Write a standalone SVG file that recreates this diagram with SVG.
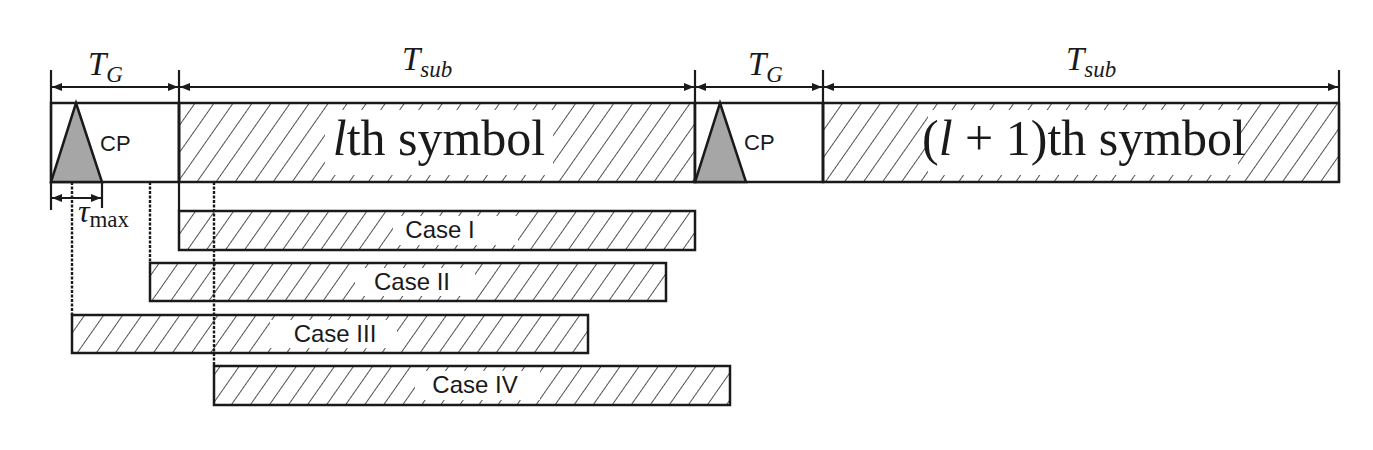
<svg xmlns="http://www.w3.org/2000/svg" width="1373" height="450" viewBox="0 0 1373 450">
<style>
.box{fill:url(#hatch);stroke:#1a1a1a;stroke-width:2.5}
.cp{fill:#fff;stroke:#1a1a1a;stroke-width:2.5}
.ln{stroke:#1a1a1a;stroke-width:2.2;fill:none}
.dash{stroke:#1a1a1a;stroke-width:2.4;fill:none;stroke-dasharray:3 1.5}
.tri{fill:#a6a6a6;stroke:#1a1a1a;stroke-width:2.5;stroke-linejoin:miter}
.wh{fill:#fff}
.sans{font-family:"Liberation Sans",Arial,sans-serif;fill:#1a1a1a}
.serif{font-family:"Liberation Serif","Times New Roman",serif;fill:#1a1a1a}
.arr{stroke:#1a1a1a;stroke-width:1.8;fill:none;marker-start:url(#ah);marker-end:url(#ah)}
</style>
<defs>
<pattern id="hatch" patternUnits="userSpaceOnUse" width="15.6" height="10" patternTransform="rotate(35)">
<line x1="0" y1="0" x2="0" y2="10" stroke="#1a1a1a" stroke-width="1.5"/>
</pattern>
<marker id="ah" viewBox="0 0 10 8" refX="10" refY="4" markerWidth="10" markerHeight="8" markerUnits="userSpaceOnUse" orient="auto-start-reverse">
<path d="M0,0 L10,4 L0,8 Z" fill="#1a1a1a"/>
</marker>
</defs>
<rect width="1373" height="450" fill="#fff"/>

<g id="cp1">
<rect class="cp" x="51" y="103" width="128" height="79"/>
<polygon class="tri" points="76,103 102,182 51,182"/>
<text class="sans" x="100" y="151" font-size="22">CP</text>
</g>
<g id="symbol-l">
<rect class="box" x="179" y="103" width="516" height="79"/>
<rect class="wh" x="325" y="110" width="228" height="65"/>
<text class="serif" x="439" y="155" font-size="50" text-anchor="middle"><tspan font-style="italic">l</tspan>th symbol</text>
</g>
<g id="cp2">
<rect class="cp" x="695" y="103" width="128" height="79"/>
<polygon class="tri" points="720,103 746,182 695,182"/>
<text class="sans" x="744" y="150" font-size="22">CP</text>
</g>
<g id="symbol-l1">
<rect class="box" x="823" y="103" width="516" height="79"/>
<rect class="wh" x="928" y="110" width="310" height="65"/>
<text class="serif" x="1084" y="155" font-size="50" text-anchor="middle">(<tspan font-style="italic">l</tspan> + 1)th symbol</text>
</g>

<g id="case1">
<rect class="box" x="179" y="211" width="516" height="39"/>
<rect class="wh" x="393" y="216" width="125" height="29"/>
<text class="sans" x="440" y="238" font-size="24" text-anchor="middle">Case I</text>
</g>
<g id="case2">
<rect class="box" x="150" y="263" width="516" height="38"/>
<rect class="wh" x="355" y="268" width="120" height="28"/>
<text class="sans" x="412" y="290" font-size="24" text-anchor="middle">Case II</text>
</g>
<g id="case3">
<rect class="box" x="72" y="315" width="516" height="38"/>
<rect class="wh" x="270" y="320" width="127" height="28"/>
<text class="sans" x="335" y="342" font-size="24" text-anchor="middle">Case III</text>
</g>
<g id="case4">
<rect class="box" x="214" y="366" width="516" height="39"/>
<rect class="wh" x="415" y="371" width="125" height="29"/>
<text class="sans" x="475" y="393" font-size="24" text-anchor="middle">Case IV</text>
</g>

<g id="connectors">
<line class="ln" x1="51" y1="70" x2="51" y2="210"/>
<line class="ln" x1="179" y1="70" x2="179" y2="211"/>
<line class="ln" x1="695" y1="70" x2="695" y2="182"/>
<line class="ln" x1="823" y1="70" x2="823" y2="182"/>
<line class="ln" x1="1339" y1="70" x2="1339" y2="182"/>
<line class="ln" x1="102" y1="182" x2="102" y2="208"/>
<line class="dash" x1="72" y1="182" x2="72" y2="315"/>
<line class="dash" x1="150" y1="182" x2="150" y2="263"/>
<line class="dash" x1="214" y1="182" x2="214" y2="366"/>
<line class="arr" x1="52" y1="87" x2="178" y2="87"/>
<line class="arr" x1="180" y1="87" x2="694" y2="87"/>
<line class="arr" x1="696" y1="87" x2="822" y2="87"/>
<line class="arr" x1="824" y1="87" x2="1338" y2="87"/>
<line class="arr" x1="52" y1="198" x2="101" y2="198"/>
</g>

<g id="labels">
<text class="serif" x="88" y="75" font-size="33" font-style="italic">T<tspan font-size="23" dy="7">G</tspan></text>
<text class="serif" x="402" y="70" font-size="33" font-style="italic">T<tspan font-size="23" dy="7">sub</tspan></text>
<text class="serif" x="748" y="75" font-size="33" font-style="italic">T<tspan font-size="23" dy="7">G</tspan></text>
<text class="serif" x="1066" y="70" font-size="33" font-style="italic">T<tspan font-size="23" dy="7">sub</tspan></text>
<text class="serif" x="78" y="222" font-size="32"><tspan font-style="italic">τ</tspan><tspan font-size="23" dy="5">max</tspan></text>
</g>
</svg>
